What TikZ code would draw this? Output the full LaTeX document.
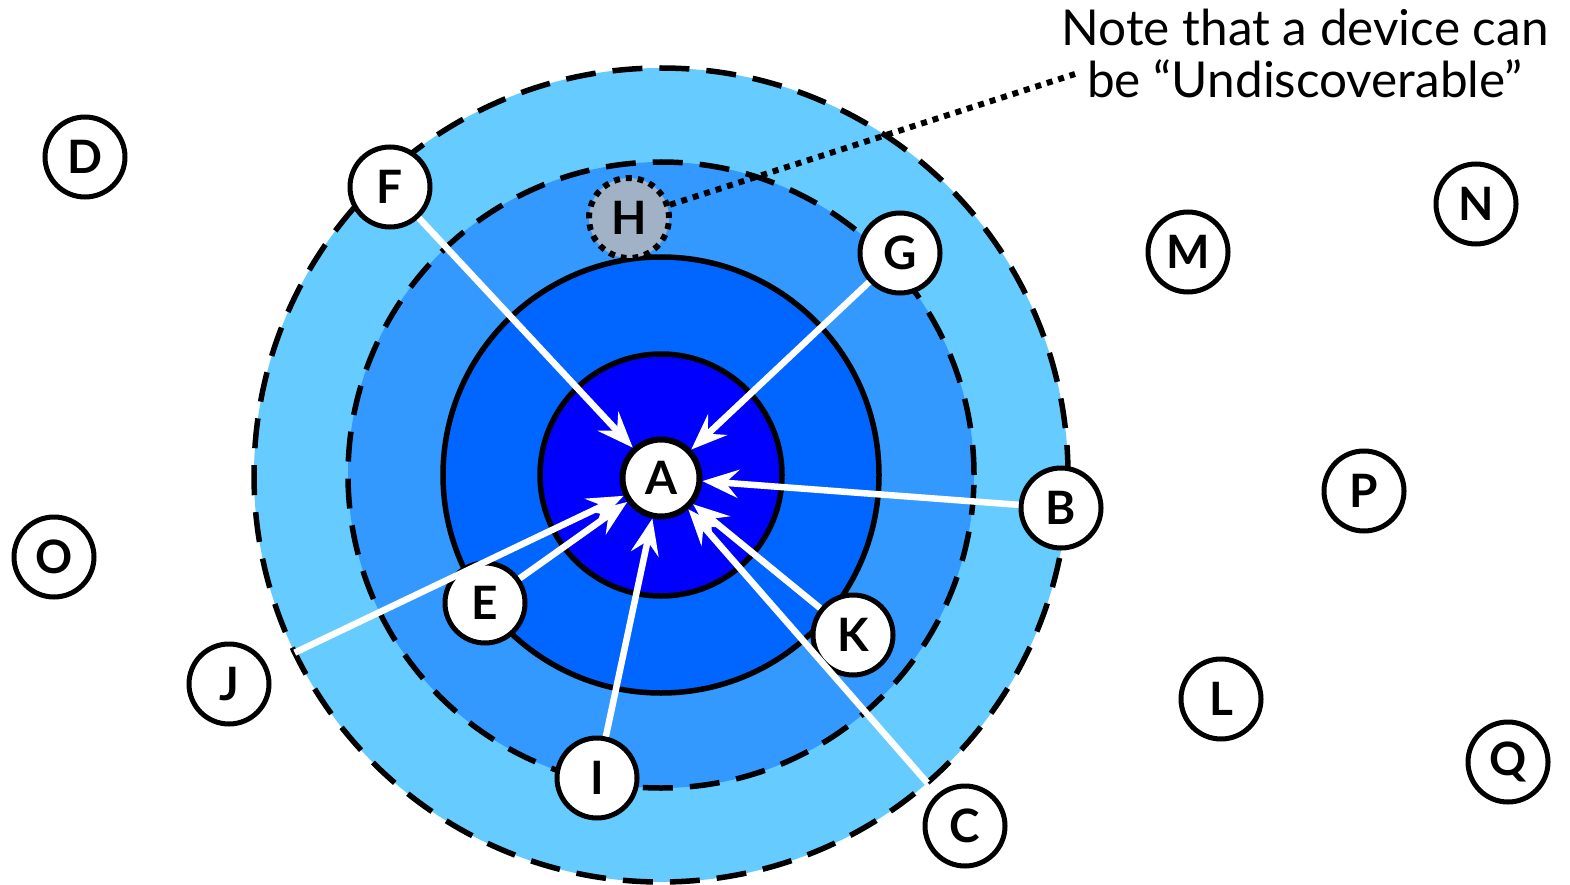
\documentclass[tikz,border=0pt]{standalone}
\usepackage{fontspec}
\setmainfont{Lato}
\usetikzlibrary{arrows.meta}
\definecolor{ringA}{HTML}{66CCFF}
\definecolor{ringB}{HTML}{3399FF}
\definecolor{ringC}{HTML}{0066FF}
\definecolor{ringD}{HTML}{0000FF}
\definecolor{hgray}{HTML}{A2B2C6}
\begin{document}
\begin{tikzpicture}[x=1pt,y=-1pt,
  dev/.style={circle, draw=black, line width=5pt, fill=white, minimum size=80pt, inner sep=0pt,
    font=\fontsize{46}{46}\selectfont\bfseries},
  link/.style={white, line width=6.5pt, -{Stealth[length=36pt,width=28pt,inset=13pt]}},
  dashring/.style={draw=black, line width=5.5pt, dash pattern=on 30pt off 17pt},
  solidring/.style={draw=black, line width=5.5pt},
  dotline/.style={black, line width=6pt, dash pattern=on 6pt off 6pt}]
\useasboundingbox (0,0) rectangle (1570,885);
\coordinate (ctr) at (661,475);
% rings
\fill[ringA] (ctr) circle (407pt);
\draw[dashring] (ctr) circle (407pt);
\fill[ringB] (ctr) circle (313pt);
\draw[dashring] (ctr) circle (313pt);
\fill[ringC] (ctr) circle (218pt);
\draw[solidring] (ctr) circle (218pt);
\fill[ringD] (ctr) circle (121pt);
\draw[solidring] (ctr) circle (121pt);
% devices
\node[dev, line width=6pt, minimum size=77pt] (A) at (661,478) {A};
\node[dev] (B) at (1061,508) {B};
\node[dev] (C) at (965,826) {C};
\node[dev] (D) at (85,157) {D};
\node[dev] (E) at (485,603) {E};
\node[dev] (F) at (390,187) {F};
\node[dev] (G) at (900,253) {G};
\node[dev, fill=hgray, line width=6pt, dash pattern=on 6pt off 6pt] (H) at (629,218) {H};
\node[dev] (I) at (597,778) {I};
\node[dev] (J) at (229,684) {J};
\node[dev] (K) at (853,635) {K};
\node[dev] (L) at (1221,699) {L};
\node[dev] (M) at (1188,252) {M};
\node[dev] (N) at (1476,204) {N};
\node[dev] (Ox) at (54,557) {O};
\node[dev] (P) at (1364,491) {P};
\node[dev] (Q) at (1508,762) {Q};
% note
\node[align=center, font=\fontsize{49.5}{52}\selectfont] (note) at (1305,53) {Note that a device can\\be “Undiscoverable”};
\coordinate (noteend) at (1075,74);
\draw[dotline] (H) -- (noteend);
% links
\begin{scope}
\clip (ctr) circle (407pt);
\draw[link] (F) -- (A);
\draw[link] (G) -- (A);
\draw[link] (B) -- (A);
\draw[link] (C) -- (A);
\draw[link] (K) -- (A);
\draw[link] (I) -- (A);
\draw[link] (E) -- (A);
\draw[link] (J) -- (A);
\end{scope}
\end{tikzpicture}
\end{document}
